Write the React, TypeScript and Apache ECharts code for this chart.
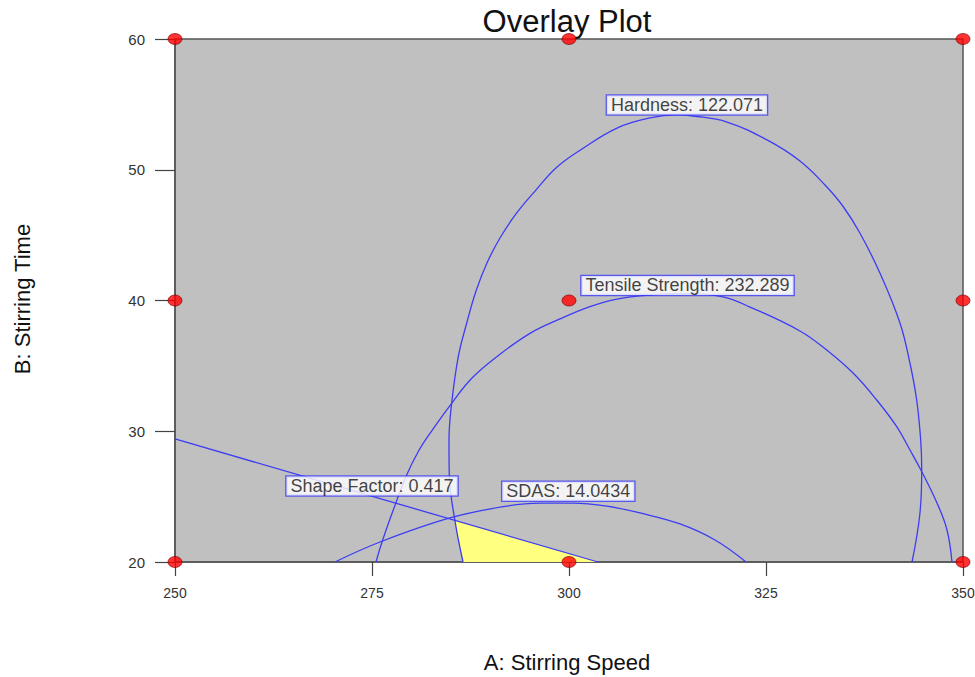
import React, { useEffect, useRef } from "react";
import * as echarts from "echarts";

// Axis settings
const xTicks = [250, 275, 300, 325, 350];
const yTicks = [20, 30, 40, 50, 60];

// Contour curves: [A: Stirring Speed, B: Stirring Time]
const hardness = [
  [286.55, 20], [285.53, 23.14], [284.81, 26.65], [284.77, 29.33], [285.11, 32.14],
  [285.95, 35.7], [287.02, 38.28], [288.2, 40.73], [289.59, 42.87], [291.24, 44.78],
  [293.27, 46.62], [295.69, 48.37], [298.48, 50.21], [301.65, 51.59], [306.09, 53.19],
  [310.28, 53.96], [313.71, 54.19], [315.74, 54.11], [320.05, 53.65], [325.13, 52.28],
  [329.31, 50.67], [332.49, 48.83], [334.81, 47.17], [336.93, 45.14], [339.47, 42.08],
  [342.01, 38.26], [343.27, 35.2], [344.12, 32.39], [344.63, 29.33], [344.76, 27.04],
  [344.54, 23.75], [343.53, 20],
];
const tensile = [
  [275.51, 20], [276.27, 21.53], [277.79, 24.13], [279.4, 26.65], [280.84, 28.41],
  [282.36, 29.84], [285.11, 32.14], [287.69, 34.07], [290.83, 35.7], [295.05, 37.49],
  [298.86, 38.59], [302.66, 39.53], [306.09, 40.11], [310.28, 40.42], [312.82, 40.5],
  [315.74, 40.5], [319.54, 40.27], [322.97, 39.5], [329.31, 37.67], [332.7, 36.21],
  [336.08, 34.43], [339.05, 32.39], [341.59, 30.35], [343.27, 28.57], [344.54, 27.17],
  [346.7, 24.51], [347.97, 22.45], [348.6, 20],
];
const sdas = [
  [270.3, 20], [276.02, 21.53], [284.9, 23.37], [292.13, 24.28], [296.32, 24.51],
  [300.51, 24.51], [304.82, 24.28], [309.01, 23.75], [314.09, 22.91], [318.53, 21.68],
  [322.46, 20],
];
const shapeFactor = [
  [250, 29.41], [303.68, 20],
];
// Overlay (feasible) region
const yellowRegion = [
  [285.5, 23.2], [286.55, 20], [303.68, 20],
];
// Design points
const designPoints = [
  [250, 60], [300, 60], [350, 60],
  [250, 40], [300, 40], [350, 40],
  [250, 20], [300, 20], [350, 20],
];
// Contour labels: [A, B, text]
const contourLabels: [number, number, string][] = [
  [314.97, 54.95, "Hardness: 122.071"],
  [315.04, 41.15, "Tensile Strength: 232.289"],
  [275.0, 25.81, "Shape Factor: 0.417"],
  [299.91, 25.41, "SDAS: 14.0434"],
];

const FONT = "'Liberation Sans', Arial, sans-serif";
const BLUE = "#3c3cf5";

export default function App() {
  const ref = useRef<HTMLDivElement>(null);
  useEffect(() => {
    if (!ref.current) return;
    const chart = echarts.init(ref.current, undefined, { renderer: "svg" });
    const curve = (name: string, data: number[][]) => ({
      name,
      type: "line",
      data,
      showSymbol: false,
      smooth: 0.4,
      lineStyle: { color: BLUE, width: 1.3 },
      z: 3,
      silent: true,
    });
    chart.setOption({
      animation: false,
      textStyle: { fontFamily: FONT },
      grid: {
        left: 175,
        top: 39,
        width: 788,
        height: 523,
        outerBoundsMode: "none",
        containLabel: false,
        show: true,
        backgroundColor: "#c0c0c0",
        borderColor: "#555",
        borderWidth: 1.5,
      },
      xAxis: {
        type: "value",
        min: xTicks[0],
        max: xTicks[xTicks.length - 1],
        interval: 25,
        axisLine: { show: true, lineStyle: { color: "#555", width: 1.5 } },
        axisTick: { show: true, length: 14, lineStyle: { color: "#444", width: 1.2 } },
        axisLabel: { fontSize: 14, color: "#333", margin: 24, fontFamily: FONT },
        splitLine: { show: false },
      },
      yAxis: {
        type: "value",
        min: yTicks[0],
        max: yTicks[yTicks.length - 1],
        interval: 10,
        axisLine: { show: true, lineStyle: { color: "#555", width: 1.5 } },
        axisTick: { show: true, length: 20, lineStyle: { color: "#444", width: 1.2 } },
        axisLabel: { fontSize: 15, color: "#333", margin: 30, fontFamily: FONT },
        splitLine: { show: false },
      },
      graphic: [
        {
          type: "text",
          x: 567,
          y: 21,
          style: {
            text: "Overlay Plot",
            fontSize: 31,
            fontFamily: FONT,
            fill: "#111",
            textAlign: "center",
            textVerticalAlign: "middle",
          },
        },
        {
          type: "text",
          x: 567,
          y: 662,
          style: {
            text: "A: Stirring Speed",
            fontSize: 22,
            fontFamily: FONT,
            fill: "#111",
            textAlign: "center",
            textVerticalAlign: "middle",
          },
        },
        {
          type: "text",
          x: 22,
          y: 299,
          rotation: Math.PI / 2,
          style: {
            text: "B: Stirring Time",
            fontSize: 22,
            fontFamily: FONT,
            fill: "#111",
            textAlign: "center",
            textVerticalAlign: "middle",
          },
        },
      ],
      series: [
        {
          type: "custom",
          data: yellowRegion,
          z: 2,
          silent: true,
          renderItem: (params: any, api: any) => {
            if (params.dataIndex !== 0) return null;
            const pts = yellowRegion.map((p) => api.coord(p));
            return {
              type: "polygon",
              shape: { points: pts },
              style: { fill: "#ffff80", stroke: "none" },
            };
          },
        },
        curve("Hardness", hardness),
        curve("Tensile Strength", tensile),
        curve("SDAS", sdas),
        curve("Shape Factor", shapeFactor),
        {
          type: "scatter",
          data: designPoints,
          symbol: "circle",
          symbolSize: [14, 11],
          clip: false,
          z: 5,
          silent: true,
          itemStyle: { color: "#ff0000", borderColor: "#700", borderWidth: 0.8 },
        },
        {
          type: "scatter",
          data: contourLabels,
          symbolSize: 1,
          clip: false,
          z: 6,
          silent: true,
          itemStyle: { color: "rgba(0,0,0,0)" },
          label: {
            show: true,
            position: "inside",
            formatter: (p: any) => p.data[2],
            fontSize: 18,
            lineHeight: 18,
            fontFamily: FONT,
            color: "#111",
            backgroundColor: "#ffffff",
            borderColor: BLUE,
            borderWidth: 1.3,
            padding: [1, 4, 0, 4],
          },
        },
      ],
    });
    return () => chart.dispose();
  }, []);
  return (
    <div
      ref={ref}
      style={{ position: "absolute", left: 0, top: 0, width: 975, height: 677 }}
    />
  );
}
